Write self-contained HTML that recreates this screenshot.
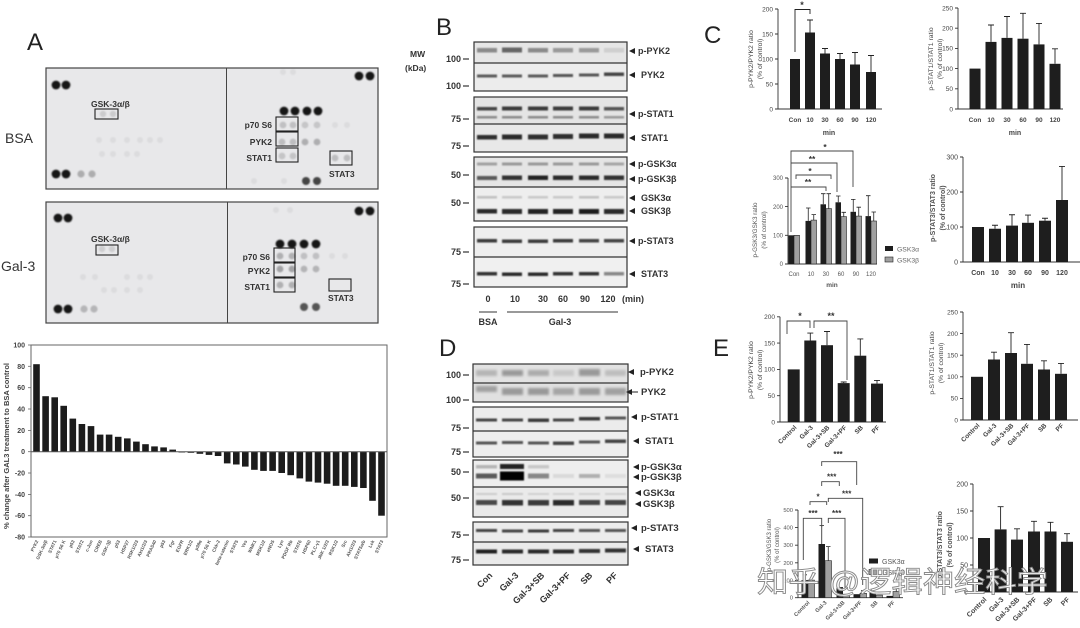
<!DOCTYPE html>
<html><head><meta charset="utf-8"><style>
html,body{margin:0;padding:0;background:#fff;}
svg{display:block;}
text{font-family:"Liberation Sans","Noto Sans CJK SC",sans-serif;}
</style></head><body>
<svg width="1080" height="628" viewBox="0 0 1080 628" xmlns="http://www.w3.org/2000/svg">
<defs>
<filter id="b" x="-20%" y="-100%" width="140%" height="300%"><feGaussianBlur stdDeviation="0.7"/></filter>
<filter id="b2" x="-20%" y="-100%" width="140%" height="300%"><feGaussianBlur stdDeviation="1.4"/></filter>
<filter id="d" x="-50%" y="-50%" width="200%" height="200%"><feGaussianBlur stdDeviation="0.8"/></filter>
</defs>
<rect width="1080" height="628" fill="#fff"/>

<!-- ================= PANEL A ================= -->
<text x="27" y="50" font-size="24" fill="#222">A</text>
<text x="5" y="143" font-size="14" fill="#333">BSA</text>
<text x="1" y="271" font-size="14" fill="#333">Gal-3</text>

<!-- BSA blot -->
<rect x="46" y="68" width="332" height="121" fill="#e8e8ea"/>
<g filter="url(#d)">
<g fill="#dcdcde">
<circle cx="99" cy="140" r="3"/><circle cx="113" cy="140" r="3"/><circle cx="127" cy="140" r="3"/><circle cx="140" cy="140" r="3"/><circle cx="150" cy="140" r="3"/><circle cx="160" cy="140" r="3"/>
<circle cx="102" cy="154" r="3"/><circle cx="113" cy="154" r="3"/><circle cx="127" cy="154" r="3"/><circle cx="137" cy="154" r="3"/>
<circle cx="283" cy="72" r="3"/><circle cx="293" cy="72" r="3"/><circle cx="254" cy="181" r="3"/><circle cx="284" cy="181" r="3"/>
<circle cx="335" cy="125" r="3"/><circle cx="347" cy="125" r="3"/>
</g>
<circle cx="103" cy="114" r="3.2" fill="#cbcbcd"/><circle cx="113" cy="114" r="3.2" fill="#cbcbcd"/>
<circle cx="283" cy="125" r="3.4" fill="#c0c0c2"/><circle cx="293" cy="125" r="3.4" fill="#c0c0c2"/>
<circle cx="305" cy="125" r="3.4" fill="#c6c6c8"/><circle cx="317" cy="125" r="3.4" fill="#c6c6c8"/>
<circle cx="282" cy="142" r="3.4" fill="#bdbdbf"/><circle cx="293" cy="142" r="3.4" fill="#bdbdbf"/>
<circle cx="305" cy="142" r="3.4" fill="#aeaeb0"/><circle cx="317" cy="142" r="3.4" fill="#aeaeb0"/>
<circle cx="282" cy="156" r="3.4" fill="#c4c4c6"/><circle cx="293" cy="156" r="3.4" fill="#c4c4c6"/>
<circle cx="335" cy="158" r="3.4" fill="#bdbdbf"/><circle cx="347" cy="158" r="3.4" fill="#bdbdbf"/>
<circle cx="81" cy="174" r="3.6" fill="#adadaf"/><circle cx="92" cy="174" r="3.6" fill="#adadaf"/>
<circle cx="306" cy="181" r="4" fill="#444"/><circle cx="317" cy="181" r="4" fill="#444"/>
<g fill="#161616">
<circle cx="56" cy="85" r="4.4"/><circle cx="66" cy="85" r="4.4"/>
<circle cx="56" cy="174" r="4.4"/><circle cx="66" cy="174" r="4.4"/>
<circle cx="359" cy="76" r="4.4"/><circle cx="370" cy="76" r="4.4"/>
<circle cx="284" cy="111" r="4.4"/><circle cx="295" cy="111" r="4.4"/><circle cx="307" cy="111" r="4.4"/><circle cx="318" cy="111" r="4.4"/>
</g>
</g>
<rect x="46" y="68" width="332" height="121" fill="none" stroke="#444" stroke-width="1.2"/>
<line x1="226.5" y1="68" x2="226.5" y2="189" stroke="#444" stroke-width="1"/>
<g fill="none" stroke="#222" stroke-width="1.1">
<rect x="95" y="109" width="23" height="10"/>
<rect x="276" y="117" width="22" height="14"/>
<rect x="276" y="132" width="22" height="14"/>
<rect x="276" y="148" width="22" height="14"/>
<rect x="330" y="151" width="22" height="14"/>
</g>
<g font-size="8.5" font-weight="bold" fill="#333">
<text x="91" y="107">GSK-3α/β</text>
<text x="272" y="128" text-anchor="end">p70 S6</text>
<text x="272" y="145" text-anchor="end">PYK2</text>
<text x="272" y="161" text-anchor="end">STAT1</text>
<text x="329" y="177">STAT3</text>
</g>

<!-- Gal-3 blot -->
<rect x="46" y="202" width="332" height="121" fill="#e8e8ea"/>
<g filter="url(#d)">
<g fill="#dcdcde">
<circle cx="83" cy="277" r="3"/><circle cx="95" cy="277" r="3"/><circle cx="127" cy="277" r="3"/><circle cx="140" cy="277" r="3"/><circle cx="150" cy="277" r="3"/>
<circle cx="104" cy="290" r="3"/><circle cx="114" cy="290" r="3"/><circle cx="127" cy="290" r="3"/><circle cx="140" cy="290" r="3"/>
<circle cx="276" cy="210" r="3"/><circle cx="290" cy="210" r="3"/>
<circle cx="332" cy="256" r="3"/><circle cx="345" cy="256" r="3"/>
</g>
<circle cx="102" cy="249" r="3.2" fill="#cdcdcf"/><circle cx="112" cy="249" r="3.2" fill="#cdcdcf"/>
<circle cx="280" cy="256" r="3.4" fill="#b0b0b2"/><circle cx="292" cy="256" r="3.4" fill="#b0b0b2"/>
<circle cx="304" cy="256" r="3.4" fill="#c0c0c2"/><circle cx="316" cy="256" r="3.4" fill="#c0c0c2"/>
<circle cx="280" cy="269" r="3.4" fill="#a2a2a4"/><circle cx="292" cy="269" r="3.4" fill="#a2a2a4"/>
<circle cx="304" cy="269" r="3.4" fill="#b4b4b6"/><circle cx="316" cy="269" r="3.4" fill="#b4b4b6"/>
<circle cx="280" cy="285" r="3.4" fill="#b0b0b2"/><circle cx="292" cy="285" r="3.4" fill="#b0b0b2"/>
<circle cx="84" cy="309" r="3.6" fill="#b5b5b7"/><circle cx="94" cy="309" r="3.6" fill="#b5b5b7"/>
<circle cx="304" cy="307" r="4" fill="#555"/><circle cx="316" cy="307" r="4" fill="#555"/>
<g fill="#161616">
<circle cx="58" cy="218" r="4.4"/><circle cx="68" cy="218" r="4.4"/>
<circle cx="58" cy="309" r="4.4"/><circle cx="68" cy="309" r="4.4"/>
<circle cx="359" cy="211" r="4.4"/><circle cx="370" cy="211" r="4.4"/>
<circle cx="280" cy="244" r="4.4"/><circle cx="292" cy="244" r="4.4"/><circle cx="304" cy="244" r="4.4"/><circle cx="316" cy="244" r="4.4"/>
</g>
</g>
<rect x="46" y="202" width="332" height="121" fill="none" stroke="#444" stroke-width="1.2"/>
<line x1="227.5" y1="202" x2="227.5" y2="323" stroke="#444" stroke-width="1"/>
<g fill="none" stroke="#222" stroke-width="1.1">
<rect x="96" y="245" width="22" height="10"/>
<rect x="274" y="248" width="21" height="14"/>
<rect x="274" y="263" width="21" height="14"/>
<rect x="274" y="278" width="21" height="14"/>
<rect x="329" y="279" width="22" height="12"/>
</g>
<g font-size="8.5" font-weight="bold" fill="#333">
<text x="91" y="242">GSK-3α/β</text>
<text x="270" y="260" text-anchor="end">p70 S6</text>
<text x="270" y="274" text-anchor="end">PYK2</text>
<text x="270" y="290" text-anchor="end">STAT1</text>
<text x="328" y="301">STAT3</text>
</g>

<!-- A bar chart -->
<rect x="31" y="345" width="356" height="192" fill="none" stroke="#666" stroke-width="1"/>
<g font-size="7" font-weight="bold" fill="#444" text-anchor="end">
<text x="25" y="347.5">100</text><text x="25" y="368.8">80</text><text x="25" y="390.2">60</text><text x="25" y="411.5">40</text><text x="25" y="432.9">20</text><text x="25" y="454.2">0</text><text x="25" y="475.5">-20</text><text x="25" y="496.9">-40</text><text x="25" y="518.2">-60</text><text x="25" y="539.5">-80</text>
</g>
<g stroke="#666" stroke-width="0.8">
<line x1="28" y1="345" x2="31" y2="345"/><line x1="28" y1="366.3" x2="31" y2="366.3"/><line x1="28" y1="387.7" x2="31" y2="387.7"/><line x1="28" y1="409" x2="31" y2="409"/><line x1="28" y1="430.4" x2="31" y2="430.4"/><line x1="28" y1="451.7" x2="31" y2="451.7"/><line x1="28" y1="473" x2="31" y2="473"/><line x1="28" y1="494.4" x2="31" y2="494.4"/><line x1="28" y1="515.7" x2="31" y2="515.7"/><line x1="28" y1="537" x2="31" y2="537"/>
</g>
<text transform="translate(9,446) rotate(-90)" text-anchor="middle" font-size="7.5" font-weight="bold" fill="#444">% change after GAL3 treatment to BSA control</text>
<g fill="#1c1c1c">
<rect x="33.2" y="364.2" width="6.6" height="87.5"/>
<rect x="42.3" y="396.2" width="6.6" height="55.5"/>
<rect x="51.4" y="397.3" width="6.6" height="54.4"/>
<rect x="60.4" y="405.8" width="6.6" height="45.9"/>
<rect x="69.5" y="418.6" width="6.6" height="33.1"/>
<rect x="78.6" y="424.0" width="6.6" height="27.7"/>
<rect x="87.7" y="426.1" width="6.6" height="25.6"/>
<rect x="96.8" y="434.6" width="6.6" height="17.1"/>
<rect x="105.8" y="434.6" width="6.6" height="17.1"/>
<rect x="114.9" y="436.8" width="6.6" height="14.9"/>
<rect x="124.0" y="438.4" width="6.6" height="13.3"/>
<rect x="133.1" y="441.6" width="6.6" height="10.1"/>
<rect x="142.2" y="444.2" width="6.6" height="7.5"/>
<rect x="151.2" y="446.4" width="6.6" height="5.3"/>
<rect x="160.3" y="447.4" width="6.6" height="4.3"/>
<rect x="169.4" y="449.6" width="6.6" height="2.1"/>
<rect x="178.5" y="451.7" width="6.6" height="0.8"/>
<rect x="187.6" y="451.7" width="6.6" height="1.1"/>
<rect x="196.6" y="451.7" width="6.6" height="2.1"/>
<rect x="205.7" y="451.7" width="6.6" height="3.2"/>
<rect x="214.8" y="451.7" width="6.6" height="4.3"/>
<rect x="223.9" y="451.7" width="6.6" height="11.7"/>
<rect x="233.0" y="451.7" width="6.6" height="12.8"/>
<rect x="242.0" y="451.7" width="6.6" height="14.9"/>
<rect x="251.1" y="451.7" width="6.6" height="18.1"/>
<rect x="260.2" y="451.7" width="6.6" height="19.2"/>
<rect x="269.3" y="451.7" width="6.6" height="19.2"/>
<rect x="278.4" y="451.7" width="6.6" height="21.3"/>
<rect x="287.4" y="451.7" width="6.6" height="23.5"/>
<rect x="296.5" y="451.7" width="6.6" height="26.7"/>
<rect x="305.6" y="451.7" width="6.6" height="29.9"/>
<rect x="314.7" y="451.7" width="6.6" height="30.9"/>
<rect x="323.8" y="451.7" width="6.6" height="32.0"/>
<rect x="332.8" y="451.7" width="6.6" height="34.1"/>
<rect x="341.9" y="451.7" width="6.6" height="34.1"/>
<rect x="351.0" y="451.7" width="6.6" height="35.2"/>
<rect x="360.1" y="451.7" width="6.6" height="36.3"/>
<rect x="369.2" y="451.7" width="6.6" height="49.1"/>
<rect x="378.2" y="451.7" width="6.6" height="64.0"/>
</g>
<line x1="31" y1="451.7" x2="387" y2="451.7" stroke="#555" stroke-width="1"/>
<g font-size="4.6" font-weight="bold" fill="#555" text-anchor="end">
<text x="38.5" y="541" transform="rotate(-65 38.5 541)">PYK2</text>
<text x="47.6" y="541" transform="rotate(-65 47.6 541)">GSK-3α/β</text>
<text x="56.7" y="541" transform="rotate(-65 56.7 541)">STAT1</text>
<text x="65.7" y="541" transform="rotate(-65 65.7 541)">p70 S6 K</text>
<text x="74.8" y="541" transform="rotate(-65 74.8 541)">p53</text>
<text x="83.9" y="541" transform="rotate(-65 83.9 541)">STAT2</text>
<text x="93.0" y="541" transform="rotate(-65 93.0 541)">c-Jun</text>
<text x="102.1" y="541" transform="rotate(-65 102.1 541)">CREB</text>
<text x="111.1" y="541" transform="rotate(-65 111.1 541)">GSK-3β</text>
<text x="120.2" y="541" transform="rotate(-65 120.2 541)">p53</text>
<text x="129.3" y="541" transform="rotate(-65 129.3 541)">HSP27</text>
<text x="138.4" y="541" transform="rotate(-65 138.4 541)">RSK1/2/3</text>
<text x="147.5" y="541" transform="rotate(-65 147.5 541)">Akt1/2/3</text>
<text x="156.5" y="541" transform="rotate(-65 156.5 541)">PRAS40</text>
<text x="165.6" y="541" transform="rotate(-65 165.6 541)">p53</text>
<text x="174.7" y="541" transform="rotate(-65 174.7 541)">Fgr</text>
<text x="183.8" y="541" transform="rotate(-65 183.8 541)">EGFR</text>
<text x="192.9" y="541" transform="rotate(-65 192.9 541)">ERK1/2</text>
<text x="201.9" y="541" transform="rotate(-65 201.9 541)">p38α</text>
<text x="211.0" y="541" transform="rotate(-65 211.0 541)">p70 S6 K</text>
<text x="220.1" y="541" transform="rotate(-65 220.1 541)">Chk-2</text>
<text x="229.2" y="541" transform="rotate(-65 229.2 541)">beta-catenin</text>
<text x="238.3" y="541" transform="rotate(-65 238.3 541)">STAT5</text>
<text x="247.3" y="541" transform="rotate(-65 247.3 541)">Yes</text>
<text x="256.4" y="541" transform="rotate(-65 256.4 541)">WNK1</text>
<text x="265.5" y="541" transform="rotate(-65 265.5 541)">MSK1/2</text>
<text x="274.6" y="541" transform="rotate(-65 274.6 541)">eNOS</text>
<text x="283.7" y="541" transform="rotate(-65 283.7 541)">Lyn</text>
<text x="292.7" y="541" transform="rotate(-65 292.7 541)">PDGF Rb</text>
<text x="301.8" y="541" transform="rotate(-65 301.8 541)">STAT6</text>
<text x="310.9" y="541" transform="rotate(-65 310.9 541)">HSP60</text>
<text x="320.0" y="541" transform="rotate(-65 320.0 541)">PLC-γ1</text>
<text x="329.1" y="541" transform="rotate(-65 329.1 541)">JNK 1/2/3</text>
<text x="338.1" y="541" transform="rotate(-65 338.1 541)">RSK1/2</text>
<text x="347.2" y="541" transform="rotate(-65 347.2 541)">Src</text>
<text x="356.3" y="541" transform="rotate(-65 356.3 541)">Akt1/2/3</text>
<text x="365.4" y="541" transform="rotate(-65 365.4 541)">STAT5a/b</text>
<text x="374.5" y="541" transform="rotate(-65 374.5 541)">Lck</text>
<text x="383.5" y="541" transform="rotate(-65 383.5 541)">STAT3</text>
</g>

<!-- ================= PANEL B ================= -->
<text x="436" y="35" font-size="24" fill="#222">B</text>
<g font-size="8.5" font-weight="bold" fill="#333">
<text x="410" y="57">MW</text>
<text x="405" y="71">(kDa)</text>
</g>
<g font-size="9" font-weight="bold" fill="#333" text-anchor="end">
<text x="461" y="62">100</text><text x="461" y="89">100</text>
<text x="461" y="122">75</text><text x="461" y="149">75</text>
<text x="461" y="178">50</text><text x="461" y="206">50</text>
<text x="461" y="255">75</text><text x="461" y="287">75</text>
</g>
<g stroke="#333" stroke-width="1.2">
<line x1="463" y1="59" x2="469" y2="59"/><line x1="463" y1="86" x2="469" y2="86"/>
<line x1="463" y1="119" x2="469" y2="119"/><line x1="463" y1="146" x2="469" y2="146"/>
<line x1="463" y1="175" x2="469" y2="175"/><line x1="463" y1="203" x2="469" y2="203"/>
<line x1="463" y1="252" x2="469" y2="252"/><line x1="463" y1="284" x2="469" y2="284"/>
</g>
<g>
<rect x="474" y="42" width="153" height="21" fill="#e6e6e6"/>
<rect x="474" y="63" width="153" height="28" fill="#ececec"/>
<rect x="474" y="97" width="153" height="27" fill="#e4e4e4"/>
<rect x="474" y="124" width="153" height="28" fill="#e8e8e8"/>
<rect x="474" y="157" width="153" height="30" fill="#e5e5e5"/>
<rect x="474" y="187" width="153" height="34" fill="#eeeeee"/>
<rect x="474" y="227" width="153" height="30" fill="#eeeeee"/>
<rect x="474" y="257" width="153" height="30" fill="#f0f0f0"/>
</g>
<g filter="url(#b)">
<rect x="477" y="48" width="20" height="4.5" fill="#8a8a8a"/><rect x="502" y="47.5" width="20" height="5" fill="#666"/><rect x="528" y="48" width="20" height="4.5" fill="#8a8a8a"/><rect x="553" y="48" width="20" height="4.5" fill="#999"/><rect x="579" y="48" width="20" height="4.5" fill="#9a9a9a"/><rect x="604" y="48" width="20" height="4.5" fill="#cfcfcf"/>
<rect x="477" y="74.5" width="20" height="3" fill="#5a5a5a"/><rect x="502" y="74.5" width="20" height="3" fill="#5a5a5a"/><rect x="528" y="74.5" width="20" height="3" fill="#5a5a5a"/><rect x="553" y="74" width="20" height="3" fill="#555"/><rect x="579" y="73.5" width="20" height="3" fill="#555"/><rect x="604" y="72.5" width="20" height="3.5" fill="#444"/>
<rect x="477" y="107" width="20" height="3.5" fill="#444"/><rect x="502" y="106.5" width="20" height="4" fill="#3a3a3a"/><rect x="528" y="106.5" width="20" height="4" fill="#3a3a3a"/><rect x="553" y="106.5" width="20" height="4" fill="#3a3a3a"/><rect x="579" y="106.5" width="20" height="4" fill="#3a3a3a"/><rect x="604" y="107" width="20" height="3.5" fill="#555"/>
<rect x="477" y="116" width="20" height="2.5" fill="#8a8a8a"/><rect x="502" y="116" width="20" height="2.5" fill="#8a8a8a"/><rect x="528" y="116" width="20" height="2.5" fill="#8a8a8a"/><rect x="553" y="116" width="20" height="2.5" fill="#8a8a8a"/><rect x="579" y="116" width="20" height="2.5" fill="#8a8a8a"/><rect x="604" y="116" width="20" height="2.5" fill="#999"/>
<rect x="477" y="135" width="20" height="4.5" fill="#2e2e2e"/><rect x="502" y="134.5" width="20" height="5" fill="#2a2a2a"/><rect x="528" y="134.5" width="20" height="5" fill="#2e2e2e"/><rect x="553" y="134" width="20" height="5" fill="#2e2e2e"/><rect x="579" y="133.5" width="20" height="5" fill="#2a2a2a"/><rect x="604" y="133.5" width="20" height="5" fill="#2a2a2a"/>
<rect x="477" y="162.5" width="20" height="3" fill="#a0a0a0"/><rect x="502" y="162.5" width="20" height="3" fill="#999"/><rect x="528" y="162.5" width="20" height="3" fill="#999"/><rect x="553" y="162.5" width="20" height="3" fill="#999"/><rect x="579" y="162.5" width="20" height="3" fill="#999"/><rect x="604" y="162.5" width="20" height="3" fill="#a5a5a5"/>
<rect x="477" y="176" width="20" height="4" fill="#5a5a5a"/><rect x="502" y="175.5" width="20" height="4.5" fill="#333"/><rect x="528" y="175.5" width="20" height="4.5" fill="#222"/><rect x="553" y="175.5" width="20" height="4.5" fill="#2a2a2a"/><rect x="579" y="175.5" width="20" height="4.5" fill="#2a2a2a"/><rect x="604" y="175.5" width="20" height="4.5" fill="#333"/>
<rect x="477" y="196" width="20" height="2.5" fill="#c0c0c0"/><rect x="502" y="196" width="20" height="2.5" fill="#c8c8c8"/><rect x="528" y="196" width="20" height="2.5" fill="#c8c8c8"/><rect x="553" y="196" width="20" height="2.5" fill="#c8c8c8"/><rect x="579" y="196" width="20" height="2.5" fill="#c0c0c0"/><rect x="604" y="196" width="20" height="2.5" fill="#c8c8c8"/>
<rect x="477" y="209" width="20" height="4.5" fill="#2a2a2a"/><rect x="502" y="209" width="20" height="5" fill="#2a2a2a"/><rect x="528" y="209" width="20" height="5" fill="#222"/><rect x="553" y="209" width="20" height="5" fill="#222"/><rect x="579" y="209" width="20" height="5" fill="#1e1e1e"/><rect x="604" y="209" width="20" height="5" fill="#2a2a2a"/>
<rect x="477" y="239" width="20" height="3.5" fill="#3a3a3a"/><rect x="502" y="239.5" width="20" height="3.5" fill="#3a3a3a"/><rect x="528" y="239.5" width="20" height="3.5" fill="#3a3a3a"/><rect x="553" y="239" width="20" height="3.5" fill="#3a3a3a"/><rect x="579" y="239" width="20" height="3.5" fill="#444"/><rect x="604" y="239" width="20" height="3.5" fill="#444"/>
<rect x="477" y="272" width="20" height="3.5" fill="#333"/><rect x="502" y="272.5" width="20" height="3.5" fill="#2a2a2a"/><rect x="528" y="272.5" width="20" height="3.5" fill="#2a2a2a"/><rect x="553" y="272" width="20" height="3.5" fill="#333"/><rect x="579" y="272" width="20" height="3.5" fill="#333"/><rect x="604" y="272" width="20" height="3.5" fill="#888"/>
</g>
<g fill="none" stroke="#333" stroke-width="1.2">
<rect x="474" y="42" width="153" height="49"/><line x1="474" y1="63" x2="627" y2="63"/>
<rect x="474" y="97" width="153" height="55"/><line x1="474" y1="124" x2="627" y2="124"/>
<rect x="474" y="157" width="153" height="64"/><line x1="474" y1="187" x2="627" y2="187"/>
<rect x="474" y="227" width="153" height="60"/><line x1="474" y1="257" x2="627" y2="257"/>
</g>
<g fill="#222">
<polygon points="629,51 635,48 635,54"/><polygon points="629,75 635,72 635,78"/>
<polygon points="629,114 635,111 635,117"/><polygon points="629,138 635,135 635,141"/>
<polygon points="629,164 635,161 635,167"/><polygon points="629,179 635,176 635,182"/>
<polygon points="629,198 635,195 635,201"/><polygon points="629,211 635,208 635,214"/>
<polygon points="629,241 635,238 635,244"/><polygon points="629,274 635,271 635,277"/>
</g>
<g font-size="9" font-weight="bold" fill="#333">
<text x="638" y="54">p-PYK2</text><text x="641" y="78">PYK2</text>
<text x="638" y="117">p-STAT1</text><text x="641" y="141">STAT1</text>
<text x="638" y="167">p-GSK3α</text><text x="638" y="182">p-GSK3β</text>
<text x="641" y="201">GSK3α</text><text x="641" y="214">GSK3β</text>
<text x="638" y="244">p-STAT3</text><text x="641" y="277">STAT3</text>
</g>
<g font-size="9" font-weight="bold" fill="#333" text-anchor="middle">
<text x="488" y="302">0</text><text x="515" y="302">10</text><text x="543" y="302">30</text><text x="563" y="302">60</text><text x="585" y="302">90</text><text x="608" y="302">120</text><text x="633" y="302">(min)</text>
<text x="488" y="325">BSA</text><text x="560" y="325">Gal-3</text>
</g>
<line x1="479" y1="312" x2="497" y2="312" stroke="#333" stroke-width="1"/>
<line x1="507" y1="312" x2="618" y2="312" stroke="#333" stroke-width="1"/>

<!-- ================= PANEL D ================= -->
<text x="439" y="356" font-size="24" fill="#222">D</text>
<g font-size="9" font-weight="bold" fill="#333" text-anchor="end">
<text x="461" y="378">100</text><text x="461" y="403">100</text>
<text x="461" y="431">75</text><text x="461" y="455">75</text>
<text x="461" y="475">50</text><text x="461" y="501">50</text>
<text x="461" y="538">75</text><text x="461" y="563">75</text>
</g>
<g stroke="#333" stroke-width="1.2">
<line x1="463" y1="375" x2="469" y2="375"/><line x1="463" y1="400" x2="469" y2="400"/>
<line x1="463" y1="428" x2="469" y2="428"/><line x1="463" y1="452" x2="469" y2="452"/>
<line x1="463" y1="472" x2="469" y2="472"/><line x1="463" y1="498" x2="469" y2="498"/>
<line x1="463" y1="535" x2="469" y2="535"/><line x1="463" y1="560" x2="469" y2="560"/>
</g>
<g>
<rect x="473" y="364" width="155" height="19" fill="#e2e2e2"/>
<rect x="473" y="383" width="155" height="19" fill="#e0e0e0"/>
<rect x="473" y="407" width="155" height="24" fill="#ececec"/>
<rect x="473" y="431" width="155" height="26" fill="#eeeeee"/>
<rect x="473" y="460" width="155" height="27" fill="#eeeeee"/>
<rect x="473" y="487" width="155" height="30" fill="#eaeaea"/>
<rect x="473" y="522" width="155" height="20" fill="#ececec"/>
<rect x="473" y="542" width="155" height="23" fill="#eaeaea"/>
</g>
<g filter="url(#b2)">
<rect x="476" y="370" width="21" height="6" fill="#b5b5b5"/><rect x="502" y="370" width="21" height="6" fill="#999"/><rect x="528" y="370" width="21" height="6" fill="#aaa"/><rect x="553" y="370" width="21" height="6" fill="#c8c8c8"/><rect x="579" y="369" width="21" height="7" fill="#999"/><rect x="605" y="370" width="21" height="6" fill="#bdbdbd"/>
<rect x="476" y="386" width="21" height="6" fill="#a0a0a0"/><rect x="502" y="388" width="21" height="7" fill="#9a9a9a"/><rect x="528" y="388" width="21" height="7" fill="#999"/><rect x="553" y="388" width="21" height="7" fill="#a5a5a5"/><rect x="579" y="388" width="21" height="7" fill="#9a9a9a"/><rect x="605" y="388" width="21" height="7" fill="#a0a0a0"/>
</g>
<g filter="url(#b)">
<rect x="476" y="418.5" width="21" height="3" fill="#444"/><rect x="502" y="418.5" width="21" height="3" fill="#444"/><rect x="528" y="418.5" width="21" height="3.5" fill="#3a3a3a"/><rect x="553" y="418.5" width="21" height="3" fill="#444"/><rect x="579" y="417" width="21" height="3.5" fill="#3a3a3a"/><rect x="605" y="416.5" width="21" height="3" fill="#555"/>
<rect x="476" y="441.5" width="21" height="3" fill="#555"/><rect x="502" y="441" width="21" height="3" fill="#555"/><rect x="528" y="441.5" width="21" height="3" fill="#555"/><rect x="553" y="441.5" width="21" height="3.5" fill="#444"/><rect x="579" y="440.5" width="21" height="3" fill="#555"/><rect x="605" y="439.5" width="21" height="3.5" fill="#444"/>
<rect x="476" y="465" width="21" height="3.5" fill="#b5b5b5"/><rect x="500" y="464" width="24" height="5" fill="#222"/><rect x="528" y="465" width="21" height="3.5" fill="#c8c8c8"/>
<rect x="476" y="473.5" width="21" height="5" fill="#5a5a5a"/><rect x="500" y="471.5" width="24" height="9" fill="#050505"/><rect x="528" y="473.5" width="21" height="5" fill="#888"/><rect x="553" y="474" width="21" height="4" fill="#dadada"/><rect x="579" y="474" width="21" height="4" fill="#b0b0b0"/><rect x="605" y="474" width="21" height="4" fill="#dedede"/>
<rect x="476" y="493" width="21" height="2" fill="#ccc"/><rect x="502" y="493" width="21" height="2" fill="#c8c8c8"/><rect x="528" y="493" width="21" height="2" fill="#d0d0d0"/><rect x="553" y="493" width="21" height="2" fill="#d0d0d0"/><rect x="579" y="493" width="21" height="2" fill="#d0d0d0"/><rect x="605" y="493" width="21" height="2" fill="#d0d0d0"/>
<rect x="476" y="500" width="21" height="5" fill="#4a4a4a"/><rect x="502" y="500" width="21" height="5.5" fill="#333"/><rect x="528" y="500" width="21" height="5.5" fill="#3a3a3a"/><rect x="553" y="500" width="21" height="5.5" fill="#2a2a2a"/><rect x="579" y="500" width="21" height="5" fill="#444"/><rect x="605" y="500" width="21" height="5" fill="#444"/>
<rect x="476" y="529" width="21" height="3" fill="#444"/><rect x="502" y="529.5" width="21" height="3" fill="#444"/><rect x="528" y="529.5" width="21" height="3" fill="#3a3a3a"/><rect x="553" y="529" width="21" height="3" fill="#444"/><rect x="579" y="529" width="21" height="3" fill="#555"/><rect x="605" y="529" width="21" height="3" fill="#555"/>
<rect x="476" y="549.5" width="21" height="4" fill="#222"/><rect x="502" y="549.5" width="21" height="4" fill="#2a2a2a"/><rect x="528" y="549.5" width="21" height="4" fill="#2a2a2a"/><rect x="553" y="549.5" width="21" height="4" fill="#2a2a2a"/><rect x="579" y="549" width="21" height="4" fill="#333"/><rect x="605" y="548.5" width="21" height="4" fill="#333"/>
</g>
<g fill="none" stroke="#333" stroke-width="1.2">
<rect x="473" y="364" width="155" height="38"/><line x1="473" y1="383" x2="628" y2="383"/>
<rect x="473" y="407" width="155" height="50"/><line x1="473" y1="431" x2="628" y2="431"/>
<rect x="473" y="460" width="155" height="57"/><line x1="473" y1="487" x2="628" y2="487"/>
<rect x="473" y="522" width="155" height="43"/><line x1="473" y1="542" x2="628" y2="542"/>
</g>
<g fill="#222">
<polygon points="628,372 634,369 634,375"/>
<polygon points="626,392 632,389 632,395"/><line x1="632" y1="392" x2="638" y2="392" stroke="#222" stroke-width="1"/>
<polygon points="631,417 637,414 637,420"/><polygon points="633,441 639,438 639,444"/>
<polygon points="633,467 639,464 639,470"/><polygon points="633,477 639,474 639,480"/>
<polygon points="635,493 641,490 641,496"/><polygon points="635,504 641,501 641,507"/>
<polygon points="631,528 637,525 637,531"/><polygon points="633,549 639,546 639,552"/>
</g>
<g font-size="9.5" font-weight="bold" fill="#333">
<text x="640" y="375">p-PYK2</text><text x="641" y="395">PYK2</text>
<text x="641" y="420">p-STAT1</text><text x="645" y="444">STAT1</text>
<text x="641" y="470">p-GSK3α</text><text x="641" y="480">p-GSK3β</text>
<text x="643" y="496">GSK3α</text><text x="643" y="507">GSK3β</text>
<text x="641" y="531">p-STAT3</text><text x="645" y="552">STAT3</text>
</g>
<g font-size="9" font-weight="bold" fill="#333" text-anchor="end">
<text x="493" y="576" transform="rotate(-45 493 576)">Con</text>
<text x="519" y="576" transform="rotate(-45 519 576)">Gal-3</text>
<text x="545" y="576" transform="rotate(-45 545 576)">Gal-3+SB</text>
<text x="571" y="576" transform="rotate(-45 571 576)">Gal-3+PF</text>
<text x="593" y="576" transform="rotate(-45 593 576)">SB</text>
<text x="618" y="576" transform="rotate(-45 618 576)">PF</text>
</g>

<!-- ================= PANEL C ================= -->
<text x="704" y="43" font-size="24" fill="#222">C</text>

<!-- C1 -->
<g stroke="#333" stroke-width="0.9" fill="none">
<path d="M778,9 V109 H882"/>
<path d="M775,9 H778 M775,34 H778 M775,59 H778 M775,84 H778 M775,109 H778"/>
</g>
<g font-size="6.5" fill="#444" text-anchor="end">
<text x="773" y="11.3">200</text><text x="773" y="36.3">150</text><text x="773" y="61.3">100</text><text x="773" y="86.3">50</text><text x="773" y="111.3">0</text>
</g>
<g fill="#1e1e1e">
<rect x="790" y="59" width="10" height="50"/>
<rect x="805" y="32.5" width="10" height="76.5"/>
<rect x="820" y="53.5" width="10" height="55.5"/>
<rect x="835" y="59" width="10" height="50"/>
<rect x="850" y="64.5" width="10" height="44.5"/>
<rect x="866" y="72" width="10" height="37"/>
</g>
<g stroke="#222" stroke-width="0.9" fill="none">
<path d="M810,32.5 V20 M807,20 H813 M825,53.5 V48.5 M822,48.5 H828 M840,59 V53.5 M837,53.5 H843 M855,64.5 V52.5 M852,52.5 H858 M871,72 V55.5 M868,55.5 H874"/>
<path d="M795,52 V9.5 H810 V14"/>
</g>
<text x="802" y="8" font-size="9" font-weight="bold" fill="#333" text-anchor="middle">*</text>
<g font-size="6.5" font-weight="bold" fill="#444" text-anchor="middle">
<text x="795" y="122">Con</text><text x="810" y="122">10</text><text x="825" y="122">30</text><text x="840" y="122">60</text><text x="855" y="122">90</text><text x="871" y="122">120</text>
</g>
<text x="829" y="135" font-size="7" font-weight="bold" fill="#444" text-anchor="middle">min</text>
<g font-size="6.8" fill="#444" text-anchor="middle">
<text transform="translate(753,59) rotate(-90)">p-PYK2/PYK2 ratio</text>
<text transform="translate(762,59) rotate(-90)">(% of control)</text>
</g>

<!-- C2 -->
<g stroke="#333" stroke-width="0.9" fill="none">
<path d="M958,8 V109 H1063"/>
<path d="M955,8 H958 M955,28.2 H958 M955,48.4 H958 M955,68.6 H958 M955,88.8 H958 M955,109 H958"/>
</g>
<g font-size="6.5" fill="#444" text-anchor="end">
<text x="953" y="10.3">250</text><text x="953" y="30.5">200</text><text x="953" y="50.7">150</text><text x="953" y="70.9">100</text><text x="953" y="91.1">50</text><text x="953" y="111.3">0</text>
</g>
<g fill="#1e1e1e">
<rect x="969.5" y="68.6" width="11" height="40.4"/>
<rect x="985.5" y="41.9" width="11" height="67.1"/>
<rect x="1001.5" y="37.9" width="11" height="71.1"/>
<rect x="1017.5" y="38.7" width="11" height="70.3"/>
<rect x="1033.5" y="44.4" width="11" height="64.6"/>
<rect x="1049.5" y="63.8" width="11" height="45.2"/>
</g>
<g stroke="#222" stroke-width="0.9" fill="none">
<path d="M991,41.9 V25 M988,25 H994 M1007,37.9 V16.5 M1004,16.5 H1010 M1023,38.7 V13.3 M1020,13.3 H1026 M1039,44.4 V23.4 M1036,23.4 H1042 M1055,63.8 V48.8 M1052,48.8 H1058"/>
</g>
<g font-size="6.5" font-weight="bold" fill="#444" text-anchor="middle">
<text x="975" y="122">Con</text><text x="991" y="122">10</text><text x="1007" y="122">30</text><text x="1023" y="122">60</text><text x="1039" y="122">90</text><text x="1055" y="122">120</text>
</g>
<text x="1015" y="135" font-size="7" font-weight="bold" fill="#444" text-anchor="middle">min</text>
<g font-size="6.8" fill="#444" text-anchor="middle">
<text transform="translate(933,59) rotate(-90)">p-STAT1/STAT1 ratio</text>
<text transform="translate(942,59) rotate(-90)">(% of control)</text>
</g>

<!-- C3 -->
<g stroke="#333" stroke-width="0.9" fill="none">
<path d="M788,178 V264 H877"/>
<path d="M785,178 H788 M785,206.6 H788 M785,235.3 H788 M785,264 H788"/>
</g>
<g font-size="6" fill="#555" text-anchor="end">
<text x="783" y="180.2">300</text><text x="783" y="208.8">200</text><text x="783" y="237.5">100</text><text x="783" y="266.2">0</text>
</g>
<g fill="#1e1e1e">
<rect x="788.5" y="235.3" width="5.5" height="28.7"/>
<rect x="805.5" y="220.9" width="5.5" height="43.1"/>
<rect x="820.5" y="204.3" width="5.5" height="59.7"/>
<rect x="835.5" y="202.3" width="5.5" height="61.7"/>
<rect x="850.5" y="211.8" width="5.5" height="52.2"/>
<rect x="865.5" y="216.1" width="5.5" height="47.9"/>
</g>
<g fill="#a0a0a0" stroke="#222" stroke-width="0.6">
<rect x="794" y="235.3" width="5.5" height="28.7"/>
<rect x="811" y="220.1" width="5.5" height="43.9"/>
<rect x="826" y="208.6" width="5.5" height="55.4"/>
<rect x="841" y="216.6" width="5.5" height="47.4"/>
<rect x="856" y="216.1" width="5.5" height="47.9"/>
<rect x="871" y="221" width="5.5" height="43"/>
</g>
<g stroke="#222" stroke-width="0.8" fill="none">
<path d="M808.25,220.9 V208 M806,208 H810.5 M813.75,220.1 V214.6 M811.5,214.6 H816 M823.25,204.3 V193.7 M821,193.7 H825.5 M828.75,208.6 V193.7 M826.5,193.7 H831 M838.25,202.3 V196 M836,196 H840.5 M843.75,216.6 V212.3 M841.5,212.3 H846 M853.25,211.8 V199.4 M851,199.4 H855.5 M858.75,216.1 V207.2 M856.5,207.2 H861 M868.25,216.1 V195.7 M866,195.7 H870.5 M873.75,221 V212 M871.5,212 H876"/>
</g>
<g stroke="#444" stroke-width="0.9" fill="none">
<path d="M791,232 V151 H853 V187"/>
<path d="M791,163 H837 V192"/>
<path d="M796,179 V175 H831 V179"/>
<path d="M791,187 H826 V191"/>
</g>
<g font-size="8.5" font-weight="bold" fill="#333" text-anchor="middle">
<text x="825" y="150">*</text><text x="812" y="162">**</text><text x="810" y="174">*</text><text x="808" y="185">**</text>
</g>
<rect x="885" y="246" width="8" height="5" fill="#1e1e1e"/>
<rect x="885" y="257" width="8" height="5" fill="#a0a0a0" stroke="#222" stroke-width="0.6"/>
<g font-size="6.8" fill="#666">
<text x="897" y="251.5">GSK3α</text><text x="897" y="262.5">GSK3β</text>
</g>
<g font-size="6" fill="#555" text-anchor="middle">
<text x="794" y="276">Con</text><text x="811" y="276">10</text><text x="826" y="276">30</text><text x="841" y="276">60</text><text x="856" y="276">90</text><text x="871" y="276">120</text>
</g>
<text x="832" y="287" font-size="6.5" font-weight="bold" fill="#555" text-anchor="middle">min</text>
<g font-size="6.3" fill="#555" text-anchor="middle">
<text transform="translate(757,230) rotate(-90)">p-GSK3/GSK3 ratio</text>
<text transform="translate(766,230) rotate(-90)">(% of control)</text>
</g>

<!-- C4 -->
<g stroke="#333" stroke-width="0.9" fill="none">
<path d="M963,157 V262 H1080"/>
<path d="M960,157 H963 M960,192 H963 M960,227 H963 M960,262 H963"/>
</g>
<g font-size="7" fill="#444" text-anchor="end">
<text x="958" y="159.5">300</text><text x="958" y="194.5">200</text><text x="958" y="229.5">100</text><text x="958" y="264.5">0</text>
</g>
<g fill="#1e1e1e">
<rect x="972" y="227" width="12" height="35"/>
<rect x="989" y="228.75" width="12" height="33.25"/>
<rect x="1006" y="225.6" width="12" height="36.4"/>
<rect x="1022" y="222.8" width="12" height="39.2"/>
<rect x="1039" y="220.7" width="12" height="41.3"/>
<rect x="1056" y="200" width="12" height="62"/>
</g>
<g stroke="#222" stroke-width="0.9" fill="none">
<path d="M995,228.75 V225.25 M992,225.25 H998 M1012,225.6 V214.75 M1009,214.75 H1015 M1028,222.8 V215.1 M1025,215.1 H1031 M1045,220.7 V218.25 M1042,218.25 H1048 M1062,200 V166.45 M1059,166.45 H1065"/>
</g>
<g font-size="7" font-weight="bold" fill="#444" text-anchor="middle">
<text x="978" y="275">Con</text><text x="995" y="275">10</text><text x="1012" y="275">30</text><text x="1028" y="275">60</text><text x="1045" y="275">90</text><text x="1062" y="275">120</text>
</g>
<text x="1018" y="288" font-size="8" font-weight="bold" fill="#444" text-anchor="middle">min</text>
<g font-size="7" font-weight="bold" fill="#555" text-anchor="middle">
<text transform="translate(935,208) rotate(-90)">p-STAT3/STAT3 ratio</text>
<text transform="translate(945,208) rotate(-90)">(% of control)</text>
</g>

<!-- ================= PANEL E ================= -->
<text x="713" y="356" font-size="24" fill="#222">E</text>

<!-- E1 -->
<g stroke="#333" stroke-width="0.9" fill="none">
<path d="M780,316.8 V422 H886"/>
<path d="M777,316.8 H780 M777,343.1 H780 M777,369.4 H780 M777,395.7 H780 M777,422 H780"/>
</g>
<g font-size="6.5" fill="#444" text-anchor="end">
<text x="775" y="319.1">200</text><text x="775" y="345.4">150</text><text x="775" y="371.7">100</text><text x="775" y="398">50</text><text x="775" y="424.3">0</text>
</g>
<g fill="#1e1e1e">
<rect x="787.7" y="369.4" width="12" height="52.6"/>
<rect x="804.3" y="340.5" width="12" height="81.5"/>
<rect x="821" y="345.2" width="12" height="76.8"/>
<rect x="837.7" y="383.1" width="12" height="38.9"/>
<rect x="854.3" y="355.7" width="12" height="66.3"/>
<rect x="871" y="383.6" width="12" height="38.4"/>
</g>
<g stroke="#222" stroke-width="0.9" fill="none">
<path d="M810.3,340.5 V333.1 M807.3,333.1 H813.3 M827,345.2 V331.5 M824,331.5 H830 M843.7,383.1 V382 M840.7,382 H846.7 M860.3,355.7 V338.9 M857.3,338.9 H863.3 M877,383.6 V380.4 M874,380.4 H880"/>
</g>
<g stroke="#444" stroke-width="0.9" fill="none">
<path d="M787,334 V321 H810 V328"/>
<path d="M814,328 V321 H847 V380"/>
</g>
<g font-size="9" font-weight="bold" fill="#333" text-anchor="middle">
<text x="800" y="319">*</text><text x="831" y="319">**</text>
</g>
<g font-size="6.5" font-weight="bold" fill="#444" text-anchor="end">
<text x="797" y="428" transform="rotate(-45 797 428)">Control</text>
<text x="813.5" y="428" transform="rotate(-45 813.5 428)">Gal-3</text>
<text x="830" y="428" transform="rotate(-45 830 428)">Gal-3+SB</text>
<text x="847" y="428" transform="rotate(-45 847 428)">Gal-3+PF</text>
<text x="863.5" y="428" transform="rotate(-45 863.5 428)">SB</text>
<text x="880" y="428" transform="rotate(-45 880 428)">PF</text>
</g>
<g font-size="6.8" fill="#444" text-anchor="middle">
<text transform="translate(753,370) rotate(-90)">p-PYK2/PYK2 ratio</text>
<text transform="translate(762,370) rotate(-90)">(% of control)</text>
</g>

<!-- E2 -->
<g stroke="#333" stroke-width="0.9" fill="none">
<path d="M963,312 V420 H1078"/>
<path d="M960,312 H963 M960,333.6 H963 M960,355.2 H963 M960,376.8 H963 M960,398.4 H963 M960,420 H963"/>
</g>
<g font-size="6.5" fill="#444" text-anchor="end">
<text x="958" y="314.3">250</text><text x="958" y="335.9">200</text><text x="958" y="357.5">150</text><text x="958" y="379.1">100</text><text x="958" y="400.7">50</text><text x="958" y="422.3">0</text>
</g>
<g fill="#1e1e1e">
<rect x="971" y="376.8" width="12" height="43.2"/>
<rect x="988" y="359.5" width="12" height="60.5"/>
<rect x="1005" y="353" width="12" height="67"/>
<rect x="1021" y="363.8" width="12" height="56.2"/>
<rect x="1038" y="369.5" width="12" height="50.5"/>
<rect x="1055" y="373.8" width="12" height="46.2"/>
</g>
<g stroke="#222" stroke-width="0.9" fill="none">
<path d="M994,359.5 V352.2 M991,352.2 H997 M1011,353 V332.7 M1008,332.7 H1014 M1027,363.8 V344.4 M1024,344.4 H1030 M1044,369.5 V360.8 M1041,360.8 H1047 M1061,373.8 V363.4 M1058,363.4 H1064"/>
</g>
<g font-size="6.5" font-weight="bold" fill="#444" text-anchor="end">
<text x="980" y="426" transform="rotate(-45 980 426)">Control</text>
<text x="997" y="426" transform="rotate(-45 997 426)">Gal-3</text>
<text x="1014" y="426" transform="rotate(-45 1014 426)">Gal-3+SB</text>
<text x="1030" y="426" transform="rotate(-45 1030 426)">Gal-3+PF</text>
<text x="1047" y="426" transform="rotate(-45 1047 426)">SB</text>
<text x="1064" y="426" transform="rotate(-45 1064 426)">PF</text>
</g>
<g font-size="6.8" fill="#444" text-anchor="middle">
<text transform="translate(934,363) rotate(-90)">p-STAT1/STAT1 ratio</text>
<text transform="translate(943,363) rotate(-90)">(% of control)</text>
</g>

<!-- E3 -->
<g stroke="#333" stroke-width="0.9" fill="none">
<path d="M798,510 V597.7 H903"/>
<path d="M795,510 H798 M795,527.6 H798 M795,545.2 H798 M795,562.8 H798 M795,580.4 H798 M795,597.7 H798"/>
</g>
<g font-size="5.8" fill="#555" text-anchor="end">
<text x="793" y="512">500</text><text x="793" y="529.6">400</text><text x="793" y="547.2">300</text><text x="793" y="564.8">200</text><text x="793" y="582.4">100</text><text x="793" y="599.7">0</text>
</g>
<g fill="#1e1e1e">
<rect x="801.5" y="580.1" width="6.5" height="17.6"/>
<rect x="818.5" y="544" width="6.5" height="53.7"/>
<rect x="836.5" y="587.1" width="6.5" height="10.6"/>
<rect x="853.5" y="594.2" width="6.5" height="3.5"/>
<rect x="869.5" y="592.4" width="6.5" height="5.3"/>
<rect x="886.5" y="595.9" width="6.5" height="1.8"/>
</g>
<g fill="#a0a0a0" stroke="#222" stroke-width="0.6">
<rect x="808" y="580.1" width="6.5" height="17.6"/>
<rect x="825" y="560.7" width="6.5" height="37"/>
<rect x="843" y="594.2" width="6.5" height="3.5"/>
<rect x="860" y="593.3" width="6.5" height="4.4"/>
<rect x="876" y="595.1" width="6.5" height="2.6"/>
<rect x="893" y="591.5" width="6.5" height="6.2"/>
</g>
<g stroke="#222" stroke-width="0.8" fill="none">
<path d="M804.75,580.1 V574.8 M802.5,574.8 H807 M821.75,544 V525.5 M819.5,525.5 H824 M828.25,560.7 V546.6 M826,546.6 H830.5 M863.25,593.3 V590.7 M861,590.7 H865.5 M896.25,591.5 V588 M894,588 H898.5"/>
</g>
<g stroke="#444" stroke-width="0.9" fill="none">
<path d="M821.7,466 V461.7 H856.7 V485"/>
<path d="M821.7,486 V481.7 H839.3 V486"/>
<path d="M828.3,502 V498.3 H862.7 V585"/>
<path d="M810,505 V501.7 H826.7 V505"/>
<path d="M803.3,560 V518.3 H821.7 V527"/>
<path d="M828.3,523 V518.3 H845 V588"/>
</g>
<g font-size="8" font-weight="bold" fill="#333" text-anchor="middle">
<text x="838" y="457">***</text>
<text x="831.7" y="479.5">***</text>
<text x="846.7" y="496.5">***</text>
<text x="818" y="499.5">*</text>
<text x="813" y="516">***</text>
<text x="836.7" y="516">***</text>
</g>
<rect x="869" y="558.5" width="9" height="5" fill="#1e1e1e"/>
<rect x="869" y="569.5" width="9" height="5" fill="#a0a0a0" stroke="#222" stroke-width="0.6"/>
<g font-size="7" fill="#555">
<text x="882" y="564">GSK3α</text><text x="882" y="575">GSK3β</text>
</g>
<g font-size="5.5" font-weight="bold" fill="#555" text-anchor="end">
<text x="810" y="603" transform="rotate(-45 810 603)">Control</text>
<text x="827" y="603" transform="rotate(-45 827 603)">Gal-3</text>
<text x="845" y="603" transform="rotate(-45 845 603)">Gal-3+SB</text>
<text x="862" y="603" transform="rotate(-45 862 603)">Gal-3+PF</text>
<text x="878" y="603" transform="rotate(-45 878 603)">SB</text>
<text x="895" y="603" transform="rotate(-45 895 603)">PF</text>
</g>
<g font-size="6" fill="#555" text-anchor="middle">
<text transform="translate(771,545) rotate(-90)">p-GSK3/GSK3 ratio</text>
<text transform="translate(779,545) rotate(-90)">(% of control)</text>
</g>

<!-- E4 -->
<g stroke="#333" stroke-width="0.9" fill="none">
<path d="M973,484 V592 H1078"/>
<path d="M970,484 H973 M970,511 H973 M970,538 H973 M970,565 H973 M970,592 H973"/>
</g>
<g font-size="7" fill="#444" text-anchor="end">
<text x="968" y="486.5">200</text><text x="968" y="513.5">150</text><text x="968" y="540.5">100</text><text x="968" y="567.5">50</text><text x="968" y="594.5">0</text>
</g>
<g fill="#1e1e1e">
<rect x="978" y="538" width="12" height="54"/>
<rect x="994.6" y="529.4" width="12" height="62.6"/>
<rect x="1011" y="539.6" width="12" height="52.4"/>
<rect x="1028" y="531.5" width="12" height="60.5"/>
<rect x="1044.5" y="531.5" width="12" height="60.5"/>
<rect x="1061" y="541.8" width="12" height="50.2"/>
</g>
<g stroke="#222" stroke-width="0.9" fill="none">
<path d="M1000.6,529.4 V506.7 M997.6,506.7 H1003.6 M1017,539.6 V528.8 M1014,528.8 H1020 M1034,531.5 V521.3 M1031,521.3 H1037 M1050.5,531.5 V522.3 M1047.5,522.3 H1053.5 M1067,541.8 V533.7 M1064,533.7 H1070"/>
</g>
<g font-size="7" font-weight="bold" fill="#444" text-anchor="end">
<text x="987" y="600" transform="rotate(-45 987 600)">Control</text>
<text x="1004" y="600" transform="rotate(-45 1004 600)">Gal-3</text>
<text x="1020" y="600" transform="rotate(-45 1020 600)">Gal-3+SB</text>
<text x="1037" y="600" transform="rotate(-45 1037 600)">Gal-3+PF</text>
<text x="1053" y="600" transform="rotate(-45 1053 600)">SB</text>
<text x="1070" y="600" transform="rotate(-45 1070 600)">PF</text>
</g>
<g font-size="7" font-weight="bold" fill="#555" text-anchor="middle">
<text transform="translate(942,545) rotate(-90)">p-STAT3/STAT3 ratio</text>
<text transform="translate(952,545) rotate(-90)">(% of control)</text>
</g>

<!-- Watermark -->
<text x="757" y="592" font-size="29" textLength="291" lengthAdjust="spacingAndGlyphs" fill="#ffffff" fill-opacity="0.88" stroke="#8a8a8a" stroke-width="0.9" font-family="'Liberation Sans','Noto Sans CJK SC',sans-serif">知乎 @逻辑神经科学</text>
</svg>
</body></html>
